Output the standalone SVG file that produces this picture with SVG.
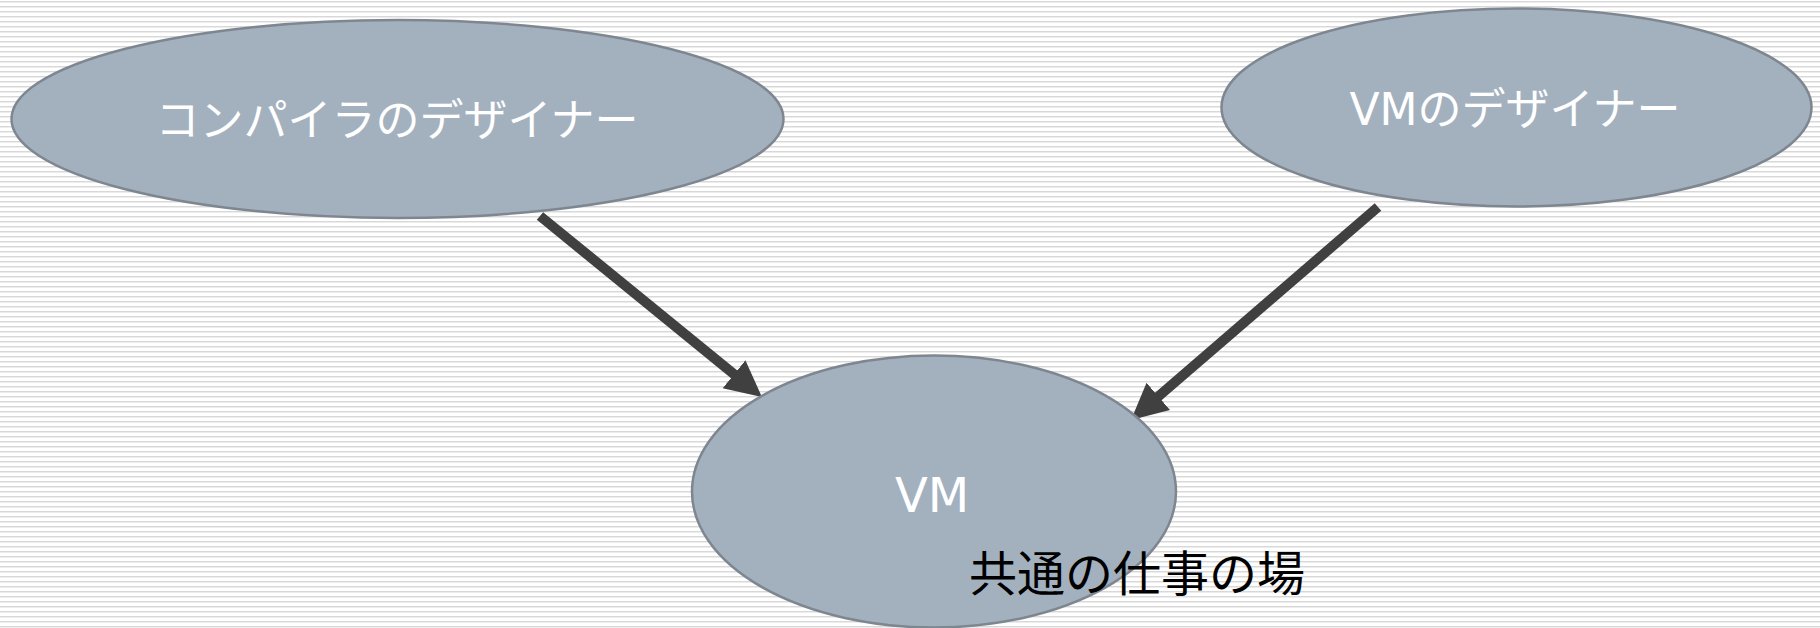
<svg xmlns="http://www.w3.org/2000/svg" width="1820" height="628" viewBox="0 0 1820 628">
  <style>
    .node { fill: #a3b1bf; stroke: #7e8690; stroke-width: 2.5; }
    .lbl { font-family: "DejaVu Sans", "Noto Sans CJK JP", sans-serif; fill: #ffffff; }
    .cap { font-family: "Noto Sans CJK JP", "Noto Sans", sans-serif; fill: #000000; }
    .conn { stroke: #404040; stroke-width: 10; fill: none; stroke-linecap: butt; }
  </style>
  <defs>
    <pattern id="stripes" x="0" y="0" width="20" height="5" patternUnits="userSpaceOnUse">
      <rect x="0" y="0" width="20" height="5" fill="#ffffff"/>
      <rect x="0" y="1" width="20" height="1" fill="#d8d8d8"/>
      <rect x="0" y="2" width="20" height="1" fill="#ededed"/>
    </pattern>
    <marker id="head" markerUnits="userSpaceOnUse" markerWidth="38" markerHeight="38" viewBox="0 -19 38 38" refX="5" refY="0" orient="auto">
      <path d="M0,-18 L36,0 L0,18 Z" fill="#404040"/>
    </marker>
  </defs>
  <rect width="1820" height="628" fill="url(#stripes)"/>

  <g id="connectors">
    <line class="conn" x1="540" y1="216" x2="737.9" y2="377.4" marker-end="url(#head)"/>
    <line class="conn" x1="1378" y1="207" x2="1154.5" y2="399.7" marker-end="url(#head)"/>
  </g>

  <g id="node-compiler">
    <ellipse class="node" cx="397.5" cy="119" rx="386" ry="99"/>
    <text class="lbl" x="397" y="136" font-size="44" text-anchor="middle">コンパイラのデザイナー</text>
  </g>

  <g id="node-vmdesigner">
    <ellipse class="node" cx="1516.5" cy="107.5" rx="295" ry="99"/>
    <text class="lbl" x="1515" y="125" font-size="44" text-anchor="middle">VMのデザイナー</text>
  </g>

  <g id="node-vm">
    <ellipse class="node" cx="934" cy="491.5" rx="242" ry="136"/>
    <text class="lbl" x="932" y="512" font-size="48" text-anchor="middle">VM</text>
    <text class="cap" x="969" y="591" font-size="48">共通の仕事の場</text>
  </g>
</svg>
